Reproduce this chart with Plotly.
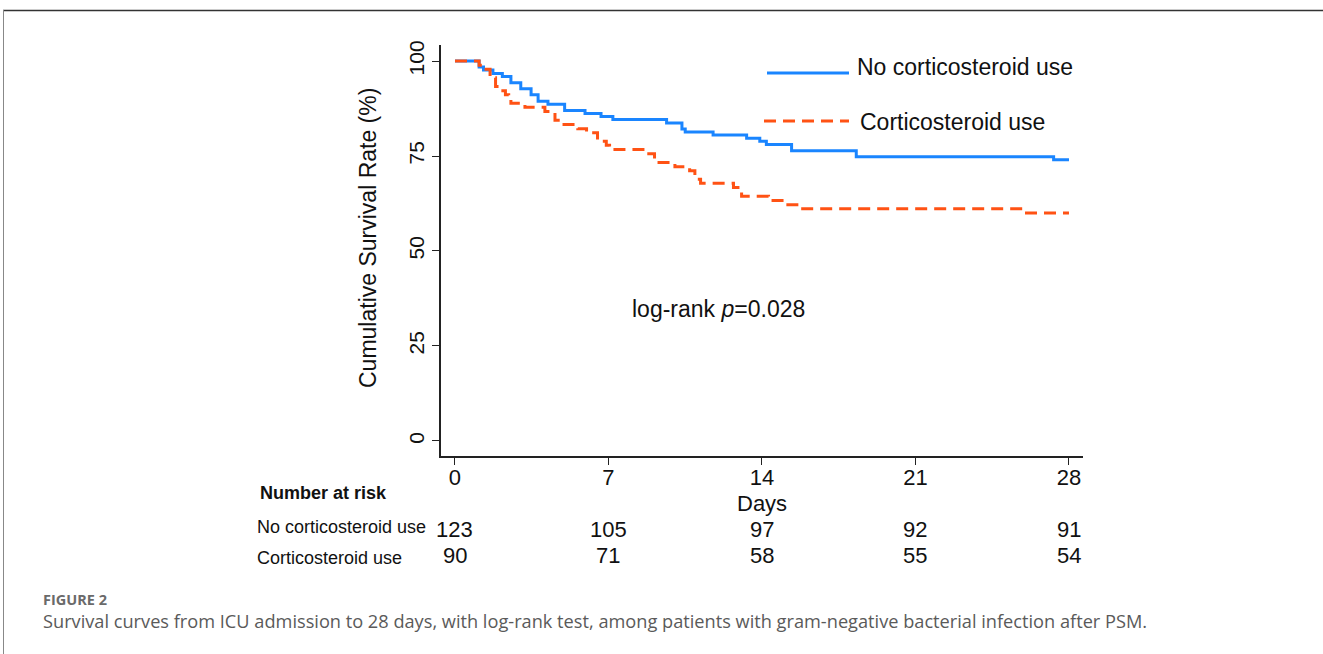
import plotly.graph_objects as go

# ---- data ----
days_no = [0, 1.1, 1.3, 1.73, 2.16, 2.55, 3.0, 3.47, 3.79, 4.24, 5.0, 5.93, 6.66, 7.2,
           9.65, 10.35, 10.5, 11.77, 13.3, 13.9, 14.2, 15.35, 18.3, 27.3, 28]
surv_no = [100, 98.4, 97.6, 96.7, 95.9, 94.3, 92.7, 91.1, 89.4, 88.6, 87.0, 86.2, 85.4, 84.6,
           83.7, 82.1, 81.3, 80.5, 79.7, 78.9, 78.0, 76.4, 74.8, 74.0, 74.0]

days_cs = [0, 1.1, 1.35, 1.6, 1.85, 2.05, 2.3, 2.45, 2.55, 3.19, 4.1, 4.56, 4.8, 5.6, 6.0,
           6.5, 6.9, 7.05, 8.7, 9.1, 10.03, 10.7, 10.94, 11.2, 12.7, 13.07, 14.3, 15.0, 15.7,
           25.9, 28]
surv_cs = [100, 98.9, 97.8, 95.6, 93.3, 92.2, 91.1, 90.0, 88.9, 87.8, 86.7, 84.4, 83.3, 82.2, 81.1,
           78.9, 77.8, 76.7, 75.6, 73.3, 72.2, 71.1, 68.9, 67.8, 66.7, 64.4, 63.3, 62.2, 61.1,
           60.0, 60.0]

group_names = ["No corticosteroid use", "Corticosteroid use"]
risk_days = [0, 7, 14, 21, 28]
risk_no = [123, 105, 97, 92, 91]
risk_cs = [90, 71, 58, 55, 54]
y_ticks = [0, 25, 50, 75, 100]

BLUE = "#1A85FF"
ORANGE = "#FF5214"
W, H = 1323, 654
L, R, T, B = 441, 1083, 45, 456

def px(x):
    return (x - L) / (R - L)

def py(y):
    return (B - y) / (B - T)

fig = go.Figure()
fig.add_trace(go.Scatter(x=days_no, y=surv_no, mode="lines", line_shape="hv",
                         line=dict(color=BLUE, width=3), name=group_names[0], showlegend=False))
fig.add_trace(go.Scatter(x=days_cs, y=surv_cs, mode="lines", line_shape="hv",
                         line=dict(color=ORANGE, width=3, dash="12px,7px"),
                         name=group_names[1], showlegend=False))

FONT = "Liberation Sans, Arial, sans-serif"
TXT = "#111"

fig.update_layout(
    width=W, height=H,
    margin=dict(l=L, r=W - R, t=T, b=H - B, pad=0),
    paper_bgcolor="white", plot_bgcolor="white",
    xaxis=dict(range=[-0.638, 28.64], tickvals=risk_days, ticks="outside", ticklen=7,
               tickwidth=1.2, tickcolor="#222", showline=True, linecolor="#222", linewidth=1.5,
               showgrid=False, zeroline=False, ticklabelstandoff=-6,
               tickfont=dict(family=FONT, size=22, color=TXT)),
    yaxis=dict(range=[-3.95, 104.21], tickvals=y_ticks, ticks="outside", ticklen=7,
               tickwidth=1.2, tickcolor="#222", showline=True, linecolor="#222", linewidth=1.5,
               showgrid=False, zeroline=False, tickangle=-90,
               tickfont=dict(family=FONT, size=21, color=TXT)),
)

# axis titles
fig.add_annotation(xref="paper", yref="paper", x=px(368), y=py(238), text="Cumulative Survival Rate (%)",
                   textangle=-90, showarrow=False, xanchor="center", yanchor="middle",
                   font=dict(family=FONT, size=23, color=TXT))
fig.add_annotation(xref="paper", yref="paper", x=px(762), y=py(503), text="Days",
                   showarrow=False, xanchor="center", yanchor="middle",
                   font=dict(family=FONT, size=22, color=TXT))

# legend (drawn manually to match the long sample lines)
fig.add_shape(type="line", xref="paper", yref="paper", x0=px(767), x1=px(849), y0=py(73), y1=py(73),
              line=dict(color=BLUE, width=3))
fig.add_shape(type="line", xref="paper", yref="paper", x0=px(764), x1=px(849), y0=py(121), y1=py(121),
              line=dict(color=ORANGE, width=3, dash="12px,7px"))
fig.add_annotation(xref="paper", yref="paper", x=px(855), y=py(67), text=group_names[0],
                   showarrow=False, xanchor="left", yanchor="middle",
                   font=dict(family=FONT, size=23, color=TXT))
fig.add_annotation(xref="paper", yref="paper", x=px(858), y=py(122), text=group_names[1],
                   showarrow=False, xanchor="left", yanchor="middle",
                   font=dict(family=FONT, size=23, color=TXT))

# log-rank
fig.add_annotation(xref="paper", yref="paper", x=px(718), y=py(309),
                   text="log-rank <i>p</i>=0.028", showarrow=False,
                   xanchor="center", yanchor="middle", font=dict(family=FONT, size=23, color=TXT))

# number at risk table
fig.add_annotation(xref="paper", yref="paper", x=px(258), y=py(493), text="<b>Number at risk</b>",
                   showarrow=False, xanchor="left", yanchor="middle",
                   font=dict(family=FONT, size=18, color=TXT))
fig.add_annotation(xref="paper", yref="paper", x=px(255), y=py(527), text=group_names[0],
                   showarrow=False, xanchor="left", yanchor="middle",
                   font=dict(family=FONT, size=18, color=TXT))
fig.add_annotation(xref="paper", yref="paper", x=px(255), y=py(558), text=group_names[1],
                   showarrow=False, xanchor="left", yanchor="middle",
                   font=dict(family=FONT, size=18, color=TXT))
for d, n1, n2 in zip(risk_days, risk_no, risk_cs):
    fig.add_annotation(x=d, xref="x", yref="paper", y=py(529), text=str(n1), showarrow=False,
                       xanchor="center", yanchor="middle", font=dict(family=FONT, size=22, color=TXT))
    fig.add_annotation(x=d, xref="x", yref="paper", y=py(555), text=str(n2), showarrow=False,
                       xanchor="center", yanchor="middle", font=dict(family=FONT, size=22, color=TXT))

# frame of the figure panel
fig.add_shape(type="line", xref="paper", yref="paper", x0=px(3), x1=px(1323), y0=py(10.5), y1=py(10.5),
              line=dict(color="#333", width=1.5))
fig.add_shape(type="line", xref="paper", yref="paper", x0=px(3.5), x1=px(3.5), y0=py(10), y1=py(654),
              line=dict(color="#888", width=1))

# caption
fig.add_annotation(xref="paper", yref="paper", x=px(41), y=py(599), text="<b>FIGURE 2</b>",
                   showarrow=False, xanchor="left", yanchor="middle",
                   font=dict(family="Open Sans, Lato, sans-serif", size=14.5, color="#6a6a6a"))
fig.add_annotation(xref="paper", yref="paper", x=px(41), y=py(621),
                   text="Survival curves from ICU admission to 28 days, with log-rank test, among patients with gram-negative bacterial infection after PSM.",
                   showarrow=False, xanchor="left", yanchor="middle",
                   font=dict(family="Open Sans, Lato, sans-serif", size=18.2, color="#5a5a5a"))

fig.write_html("out.html")
